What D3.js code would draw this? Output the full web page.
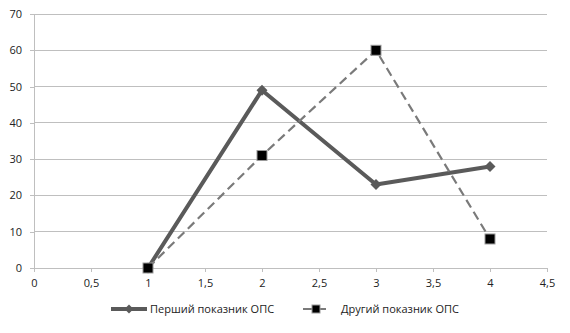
<!DOCTYPE html>
<html><head><meta charset="utf-8">
<script src="https://cdn.jsdelivr.net/npm/d3@7"></script>
<style>
body{margin:0;background:#fff;}
text{font-family:"Open Sans","Noto Sans",sans-serif;font-size:11px;fill:#222;}
</style></head>
<body><svg id="c" width="570" height="333"></svg>
<script>
const xValues = [1, 2, 3, 4];
const firstSeries = [0, 49, 23, 28];
const secondSeries = [0, 31, 60, 8];
const seriesNames = ["Перший показник ОПС", "Другий показник ОПС"];
const xTicks = [0, 0.5, 1, 1.5, 2, 2.5, 3, 3.5, 4, 4.5];
const yTicks = [0, 10, 20, 30, 40, 50, 60, 70];

const svg = d3.select("#c");
const x = d3.scaleLinear().domain([0, 4.5]).range([34, 547]);
const y = d3.scaleLinear().domain([0, 70]).range([268, 14]);
const fmt = d => String(d).replace(".", ",");
const grid = "#bfbfbf";

// horizontal gridlines
svg.append("g").selectAll("line").data(yTicks.filter(d => d > 0)).join("line")
  .attr("x1", x(0)).attr("x2", x(4.5))
  .attr("y1", d => y(d)).attr("y2", d => y(d))
  .attr("stroke", grid).attr("stroke-width", 1).attr("shape-rendering", "crispEdges");

const yAxis = svg.append("g").attr("transform", `translate(${x(0)},0)`)
  .call(d3.axisLeft(y).tickValues(yTicks).tickSize(4).tickPadding(8).tickFormat(fmt));
const xAxis = svg.append("g").attr("transform", `translate(0,${y(0)})`)
  .call(d3.axisBottom(x).tickValues(xTicks).tickSize(4).tickPadding(7).tickFormat(fmt));
[yAxis, xAxis].forEach(a => {
  a.selectAll("path,line").attr("stroke", grid).attr("shape-rendering", "crispEdges");
  a.selectAll("text").style("font-size", "11px").attr("fill", "#222");
});

const line = d3.line().x((d, i) => x(xValues[i])).y(d => y(d));
const diamondPath = r => `M0,${-r}L${r},0L0,${r}L${-r},0Z`;

// first series: thick solid line with diamonds
svg.append("path").datum(firstSeries).attr("d", line)
  .attr("fill", "none").attr("stroke", "#5a5a5a").attr("stroke-width", 4)
  .attr("stroke-linejoin", "round");
svg.append("g").selectAll("path").data(firstSeries).join("path")
  .attr("d", diamondPath(5.5))
  .attr("transform", (d, i) => `translate(${x(xValues[i])},${y(d)})`)
  .attr("fill", "#5a5a5a");

// second series: dashed line with black squares
svg.append("path").datum(secondSeries).attr("d", line)
  .attr("fill", "none").attr("stroke", "#7a7a7a").attr("stroke-width", 2.2)
  .attr("stroke-dasharray", "9,5");
svg.append("g").selectAll("rect").data(secondSeries).join("rect")
  .attr("x", (d, i) => x(xValues[i]) - 5).attr("y", d => y(d) - 5)
  .attr("width", 10).attr("height", 10)
  .attr("fill", "#000").attr("stroke", "#9a9a9a").attr("stroke-width", 1);

// legend
const ly = 309;
const lg = svg.append("g");
lg.append("line").attr("x1", 111).attr("x2", 147).attr("y1", ly).attr("y2", ly)
  .attr("stroke", "#5a5a5a").attr("stroke-width", 4);
lg.append("path").attr("d", diamondPath(4.5))
  .attr("transform", `translate(129,${ly})`).attr("fill", "#5a5a5a");
lg.append("text").attr("x", 150).attr("y", ly + 4).text(seriesNames[0]);
lg.append("line").attr("x1", 303).attr("x2", 330).attr("y1", ly).attr("y2", ly)
  .attr("stroke", "#7a7a7a").attr("stroke-width", 2.2).attr("stroke-dasharray", "9,5");
lg.append("rect").attr("x", 316 - 4).attr("y", ly - 4).attr("width", 8).attr("height", 8)
  .attr("fill", "#000").attr("stroke", "#9a9a9a");
lg.append("text").attr("x", 341).attr("y", ly + 4).text(seriesNames[1]);
</script></body></html>
